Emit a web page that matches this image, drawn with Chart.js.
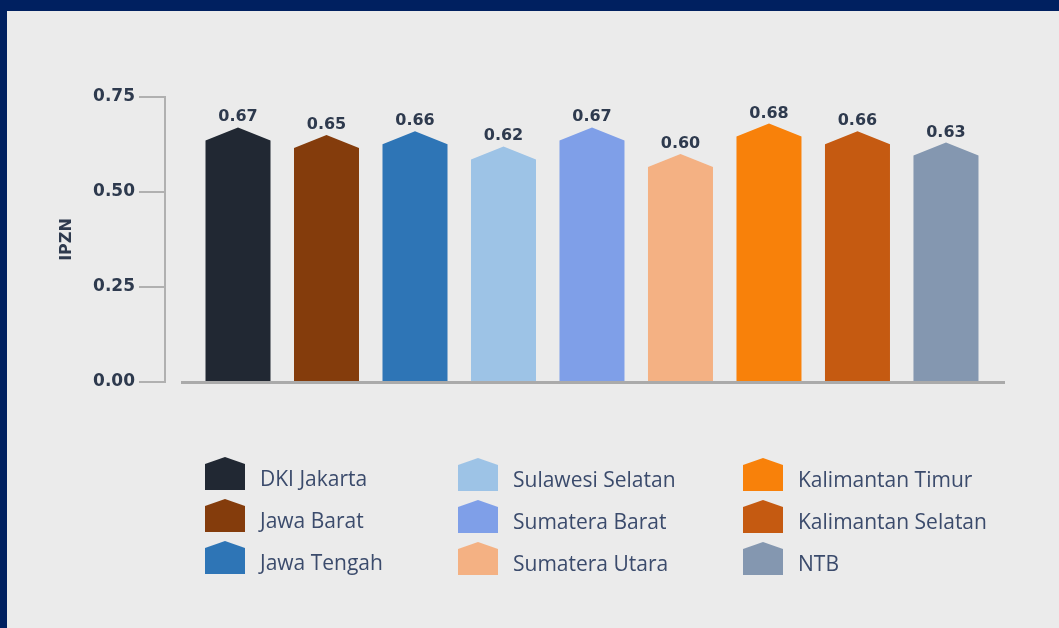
<!DOCTYPE html>
<html>
<head>
<meta charset="utf-8">
<script src="https://cdn.jsdelivr.net/npm/chart.js@4"></script>
<style>
    body { margin: 0; background: #002060; width: 1059px; height: 628px; overflow: hidden; }
    #box { position: absolute; left: 7px; top: 11px; width: 1052px; height: 617px; background: #ebebeb; }
</style>
</head>
<body>
<div id="box"><canvas id="ipznChart"></canvas></div>
<script>
var provinsi = ['DKI Jakarta', 'Jawa Barat', 'Jawa Tengah', 'Sulawesi Selatan', 'Sumatera Barat',
    'Sumatera Utara', 'Kalimantan Timur', 'Kalimantan Selatan', 'NTB'];
var nilaiIpzn = [0.67, 0.65, 0.66, 0.62, 0.67, 0.60, 0.68, 0.66, 0.63];
var warna = ['#212833', '#843c0c', '#2e75b6', '#9dc3e6', '#7f9fe8', '#f4b183', '#f8810a', '#c55a11', '#8497b0'];
var yTicks = [0, 0.25, 0.50, 0.75];

var teksGelap = '#2e3a4e';
var teksLegend = '#3b4b6c';

function rumah(ctx, x, top, w, bottom, bahu) {
    ctx.beginPath();
    ctx.moveTo(x - w / 2, bottom);
    ctx.lineTo(x - w / 2, top + bahu);
    ctx.lineTo(x, top);
    ctx.lineTo(x + w / 2, top + bahu);
    ctx.lineTo(x + w / 2, bottom);
    ctx.closePath();
    ctx.fill();
}

// bars are drawn as "house" shapes, tip on the value
var barRumah = {
    id: 'barRumah',
    beforeDatasetDraw: function (chart, args) {
        var ctx = chart.ctx;
        var meta = args.meta;
        ctx.save();
        for (var i = 0; i < meta.data.length; i++) {
            var el = meta.data[i];
            ctx.fillStyle = warna[i];
            rumah(ctx, el.x, el.y, el.width, el.base, 13);
        }
        ctx.restore();
        return false;
    },
    afterDatasetsDraw: function (chart) {
        var ctx = chart.ctx;
        var area = chart.chartArea;
        var meta = chart.getDatasetMeta(0);
        ctx.save();
        // x axis line
        ctx.strokeStyle = '#aaaaaa';
        ctx.lineWidth = 3;
        ctx.beginPath();
        ctx.moveTo(area.left + 16, area.bottom + 0.5);
        ctx.lineTo(area.right, area.bottom + 0.5);
        ctx.stroke();
        // value labels
        ctx.fillStyle = teksGelap;
        ctx.font = 'bold 16px "DejaVu Sans"';
        ctx.textAlign = 'center';
        ctx.textBaseline = 'alphabetic';
        for (var i = 0; i < meta.data.length; i++) {
            var el = meta.data[i];
            ctx.fillText(nilaiIpzn[i].toFixed(2), el.x, el.y - 6);
        }
        ctx.restore();
    }
};

// legend in three columns
var legendKolom = {
    id: 'legendKolom',
    afterDraw: function (chart) {
        var ctx = chart.ctx;
        var kolomX = [198, 451, 736];
        var kolomY = [446, 447, 447];
        ctx.save();
        ctx.font = '21px "Open Sans"';
        ctx.textAlign = 'left';
        ctx.textBaseline = 'alphabetic';
        for (var i = 0; i < provinsi.length; i++) {
            var k = Math.floor(i / 3);
            var b = i % 3;
            var x = kolomX[k];
            var y = kolomY[k] + b * 42;
            ctx.fillStyle = warna[i];
            rumah(ctx, x + 20, y, 40, y + 33, 7);
            ctx.fillStyle = teksLegend;
            ctx.fillText(provinsi[i], x + 55, y + 29);
        }
        ctx.restore();
    }
};

var context = document.getElementById('ipznChart').getContext('2d');
var ipznChart = new Chart(context, {
    type: 'bar',
    data: {
        labels: provinsi,
        datasets: [{
            label: 'IPZN',
            data: nilaiIpzn.map(function (v, i) { return { x: i, y: v }; }),
            backgroundColor: warna,
            barThickness: 65
        }]
    },
    options: {
        responsive: true,
        maintainAspectRatio: false,
        animation: false,
        layout: {
            padding: { top: 86, right: 54, bottom: 246, left: 0 }
        },
        plugins: {
            legend: { display: false },
            tooltip: { enabled: false }
        },
        scales: {
            x: {
                type: 'linear',
                min: -0.825,
                max: 8.667,
                offset: false,
                display: false
            },
            y: {
                min: 0,
                max: 0.75,
                afterFit: function (scale) { scale.width = 158; },
                afterBuildTicks: function (scale) {
                    scale.ticks = yTicks.map(function (v) { return { value: v }; });
                },
                title: {
                    display: true,
                    text: 'IPZN',
                    color: teksGelap,
                    font: { family: 'DejaVu Sans', weight: 'bold', size: 16 },
                    padding: { top: 50, bottom: 0 }
                },
                border: { display: true, color: '#b0b0b0', width: 2 },
                grid: {
                    drawOnChartArea: false,
                    drawTicks: true,
                    tickLength: 26,
                    color: '#b0b0b0',
                    lineWidth: 2
                },
                ticks: {
                    padding: 4,
                    color: teksGelap,
                    font: { family: 'DejaVu Sans', weight: 'bold', size: 17 },
                    callback: function (v) { return v.toFixed(2); }
                }
            }
        }
    },
    plugins: [barRumah, legendKolom]
});
</script>
</body>
</html>
